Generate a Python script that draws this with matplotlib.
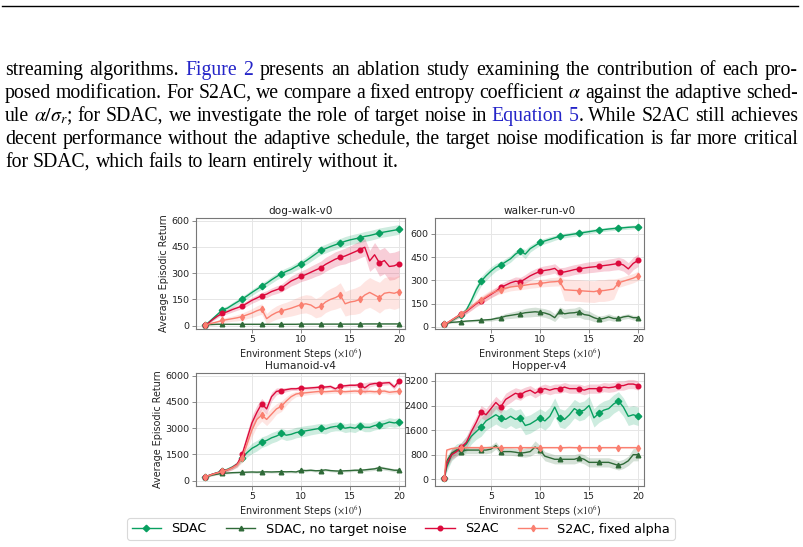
import numpy as np
import matplotlib
matplotlib.use('Agg')
import matplotlib.pyplot as plt
from matplotlib.lines import Line2D

plt.rcParams['mathtext.fontset'] = 'stix'

W, H = 804, 547

# x positions of the evaluation points (x 10^6 environment steps)
steps = [0.25] + [i / 2 for i in range(1, 41)]

titles = ['dog-walk-v0', 'walker-run-v0', 'Humanoid-v4', 'Hopper-v4']
labels = ['SDAC', 'SDAC, no target noise', 'S2AC', 'S2AC, fixed alpha']

# ---- dog-walk-v0 ----
dog_sdac = [5, 15, 40, 65, 90, 100, 118, 135, 152, 170, 190, 208, 226, 242, 262, 280, 297, 310, 322, 338,
            352, 370, 390, 410, 430, 440, 452, 462, 472, 482, 490, 496, 502, 510, 515, 522, 530, 535, 540, 545, 550]
dog_sdac_sd = [3, 6, 10, 12, 14, 14, 15, 15, 16, 16, 17, 17, 18, 18, 19, 19, 20, 20, 20, 21,
               22, 22, 23, 24, 25, 25, 25, 26, 26, 27, 27, 28, 28, 28, 28, 28, 28, 28, 28, 28, 28]
dog_nonoise = [5, 6, 7, 8, 8, 8, 8, 8, 8, 8, 8, 8, 8, 8, 8, 8, 8, 8, 8, 8,
               9, 9, 9, 9, 9, 9, 9, 9, 9, 9, 9, 9, 9, 10, 10, 10, 10, 10, 10, 10, 10]
dog_nonoise_sd = [2] * 41
dog_s2ac = [5, 12, 35, 55, 70, 80, 92, 102, 112, 128, 145, 158, 172, 180, 195, 205, 215, 235, 255, 268,
            282, 292, 305, 318, 330, 350, 365, 380, 390, 398, 410, 422, 435, 448, 370, 405, 358, 372, 338, 342, 355]
dog_s2ac_sd = [3, 5, 8, 10, 12, 12, 14, 14, 15, 16, 17, 18, 18, 20, 20, 22, 22, 25, 28, 30,
               30, 32, 35, 36, 38, 40, 40, 42, 42, 45, 45, 48, 48, 50, 60, 70, 75, 75, 78, 78, 75]
dog_fixed = [5, 8, 15, 22, 30, 35, 40, 45, 52, 62, 72, 85, 95, 40, 60, 75, 85, 92, 100, 110,
             120, 125, 118, 100, 110, 135, 150, 160, 175, 125, 135, 140, 150, 175, 190, 175, 160, 185, 190, 185, 195]
dog_fixed_sd = [3, 5, 8, 10, 12, 14, 15, 18, 20, 22, 25, 28, 30, 30, 35, 38, 40, 42, 45, 48,
                50, 52, 55, 55, 58, 60, 62, 65, 70, 70, 72, 75, 78, 80, 85, 85, 88, 90, 90, 92, 92]

# ---- walker-run-v0 ----
walker_sdac = [20, 25, 40, 60, 80, 110, 170, 240, 295, 330, 360, 385, 400, 420, 440, 470, 490, 470, 505, 525,
               545, 555, 565, 575, 585, 590, 595, 600, 605, 610, 615, 620, 625, 628, 632, 635, 638, 640, 643, 645, 645]
walker_sdac_sd = [3, 5, 8, 10, 15, 20, 25, 30, 30, 30, 28, 25, 22, 22, 22, 22, 22, 30, 22, 20,
                  20, 18, 18, 16, 16, 15, 15, 15, 14, 14, 13, 13, 13, 12, 12, 12, 12, 12, 12, 12, 12]
walker_nonoise = [22, 25, 30, 32, 35, 38, 40, 42, 44, 46, 48, 55, 60, 70, 75, 80, 85, 92, 95, 98,
                  95, 90, 80, 60, 100, 85, 90, 92, 98, 80, 75, 60, 50, 55, 65, 55, 55, 65, 70, 60, 60]
walker_nonoise_sd = [3, 4, 5, 6, 6, 6, 7, 7, 8, 8, 10, 12, 15, 18, 20, 22, 25, 28, 30, 30,
                     28, 28, 28, 25, 30, 30, 30, 30, 35, 30, 28, 25, 20, 20, 20, 18, 15, 15, 15, 15, 15]
walker_s2ac = [20, 25, 45, 65, 85, 100, 125, 150, 170, 190, 210, 230, 255, 270, 285, 295, 292, 310, 330, 345,
               358, 365, 370, 378, 352, 355, 362, 370, 375, 380, 385, 388, 392, 396, 400, 405, 410, 400, 375, 410, 430]
walker_s2ac_sd = [3, 5, 10, 12, 15, 15, 18, 20, 20, 22, 22, 25, 25, 25, 25, 28, 28, 28, 30, 30,
                  30, 30, 30, 30, 30, 30, 32, 32, 32, 35, 35, 35, 35, 35, 38, 38, 40, 40, 40, 40, 40]
walker_fixed = [20, 25, 45, 65, 85, 105, 130, 155, 175, 195, 215, 230, 240, 250, 258, 262, 265, 270, 275, 278,
                282, 285, 290, 292, 295, 240, 238, 236, 235, 232, 230, 228, 235, 235, 240, 245, 285, 295, 305, 315, 330]
walker_fixed_sd = [3, 5, 10, 12, 15, 18, 20, 22, 25, 25, 25, 25, 25, 25, 25, 25, 25, 25, 25, 25,
                   25, 25, 28, 28, 30, 70, 70, 70, 70, 70, 70, 70, 70, 70, 70, 65, 30, 30, 30, 30, 30]

# ---- Humanoid-v4 ----
hum_sdac = [200, 280, 380, 470, 560, 650, 780, 950, 1300, 1600, 1850, 2000, 2200, 2300, 2450, 2550, 2700, 2600, 2650, 2750,
            2800, 2850, 2900, 2950, 3000, 2950, 3050, 3100, 3100, 3000, 3050, 3000, 3150, 3050, 3050, 3150, 3200, 3250, 3350, 3300, 3350]
hum_sdac_sd = [30, 50, 60, 70, 80, 100, 120, 150, 200, 250, 300, 300, 300, 300, 300, 300, 300, 300, 300, 300,
               300, 300, 280, 280, 280, 280, 250, 250, 250, 250, 250, 250, 250, 250, 250, 250, 250, 250, 250, 250, 250]
hum_nonoise = [200, 260, 330, 380, 420, 440, 460, 470, 480, 490, 500, 490, 500, 510, 500, 510, 520, 510, 520, 500,
               600, 580, 600, 570, 580, 620, 580, 560, 550, 570, 580, 600, 600, 620, 650, 680, 750, 700, 650, 600, 600]
hum_nonoise_sd = [30, 40, 50, 50, 50, 50, 50, 50, 50, 50, 60, 60, 60, 60, 60, 60, 60, 60, 70, 70,
                  70, 70, 70, 70, 70, 70, 70, 70, 70, 70, 70, 70, 70, 80, 90, 90, 100, 100, 90, 90, 90]
hum_s2ac = [200, 280, 380, 460, 540, 620, 750, 950, 1500, 2400, 3300, 3900, 4400, 4100, 4800, 5100, 5150, 5200, 5250, 5250,
            5300, 5280, 5300, 5320, 5350, 5350, 5380, 5250, 5400, 5420, 5450, 5450, 5480, 5300, 5500, 5550, 5550, 5580, 5600, 5350, 5700]
hum_s2ac_sd = [30, 50, 60, 70, 80, 100, 120, 150, 250, 350, 400, 400, 300, 300, 250, 200, 150, 120, 100, 100,
               100, 100, 100, 100, 100, 100, 100, 100, 100, 100, 100, 100, 120, 300, 150, 120, 120, 120, 120, 150, 150]
hum_fixed = [200, 270, 370, 450, 530, 620, 740, 900, 1300, 2100, 2900, 3500, 3750, 3500, 3800, 4100, 4250, 4550, 4800, 4950,
             5000, 5020, 5050, 5080, 5100, 5080, 5100, 5120, 5100, 5080, 5100, 5120, 5100, 5080, 5100, 5080, 5100, 5120, 5050, 5080, 5100]
hum_fixed_sd = [30, 50, 60, 70, 80, 100, 120, 150, 250, 350, 400, 400, 350, 350, 350, 300, 300, 250, 200, 150,
                150, 130, 120, 120, 120, 120, 120, 120, 120, 120, 120, 120, 120, 120, 120, 120, 120, 120, 120, 120, 120]

# ---- Hopper-v4 ----
hop_sdac = [50, 400, 800, 950, 1000, 1150, 1400, 1550, 1700, 1900, 2000, 2100, 2000, 1950, 2050, 1950, 2000, 1750, 1800, 1900,
            2000, 1900, 2050, 2350, 2000, 1950, 2100, 2300, 2200, 2250, 2400, 2000, 2150, 2250, 2300, 2450, 2550, 2350, 2050, 2100, 2050]
hop_sdac_sd = [30, 150, 200, 200, 200, 250, 250, 250, 300, 300, 300, 300, 300, 300, 300, 300, 300, 300, 300, 300,
               300, 300, 300, 300, 300, 300, 300, 300, 300, 300, 300, 300, 300, 300, 300, 300, 300, 300, 300, 300, 300]
hop_nonoise = [50, 600, 850, 950, 900, 950, 950, 950, 950, 950, 980, 1100, 900, 900, 900, 880, 850, 870, 900, 1050,
               950, 750, 700, 650, 650, 650, 650, 650, 700, 650, 550, 550, 550, 550, 550, 500, 450, 500, 600, 800, 800]
hop_nonoise_sd = [30, 150, 150, 120, 120, 120, 120, 120, 120, 120, 120, 120, 120, 120, 120, 120, 120, 150, 150, 200,
                  150, 150, 150, 150, 150, 150, 150, 150, 150, 150, 150, 150, 150, 150, 150, 150, 150, 150, 150, 200, 200]
hop_s2ac = [50, 500, 800, 900, 1050, 1200, 1550, 1850, 2200, 2100, 2300, 2500, 2350, 2600, 2700, 2800, 2750, 2850, 2900, 2800,
            2900, 2950, 2900, 2950, 2950, 3000, 2950, 2950, 2950, 2900, 2950, 2950, 2950, 3000, 2980, 3000, 3050, 3050, 3100, 3100, 3050]
hop_s2ac_sd = [30, 150, 150, 150, 150, 200, 200, 200, 200, 200, 200, 200, 200, 200, 200, 180, 180, 150, 150, 150,
               150, 150, 150, 150, 150, 150, 150, 150, 150, 150, 150, 150, 150, 150, 150, 150, 150, 150, 150, 150, 150]
hop_fixed = [50, 950, 1000, 1020, 1030, 1030, 1030, 1030, 1030, 1030, 1030, 1035, 1030, 1030, 1030, 1030, 1030, 1030, 1030, 1030,
             1030, 1030, 1030, 1030, 1030, 1030, 1035, 1030, 1030, 1030, 1030, 1030, 1030, 1030, 1030, 1030, 1030, 1030, 1030, 1030, 1030]
hop_fixed_sd = [20, 40, 30, 30, 30, 30, 30, 30, 30, 30, 30, 30, 30, 30, 30, 30, 30, 30, 30, 30,
                30, 30, 30, 30, 30, 30, 30, 30, 30, 30, 30, 30, 30, 30, 30, 30, 30, 30, 30, 30, 30]

panels = [
    [(dog_sdac, dog_sdac_sd), (dog_nonoise, dog_nonoise_sd), (dog_s2ac, dog_s2ac_sd), (dog_fixed, dog_fixed_sd)],
    [(walker_sdac, walker_sdac_sd), (walker_nonoise, walker_nonoise_sd), (walker_s2ac, walker_s2ac_sd), (walker_fixed, walker_fixed_sd)],
    [(hum_sdac, hum_sdac_sd), (hum_nonoise, hum_nonoise_sd), (hum_s2ac, hum_s2ac_sd), (hum_fixed, hum_fixed_sd)],
    [(hop_sdac, hop_sdac_sd), (hop_nonoise, hop_nonoise_sd), (hop_s2ac, hop_s2ac_sd), (hop_fixed, hop_fixed_sd)],
]
yticks = [[0, 150, 300, 450, 600], [0, 150, 300, 450, 600],
          [0, 1500, 3000, 4500, 6000], [0, 800, 1600, 2400, 3200]]
ylims = [(-19, 615), (-13, 703), (-300, 6150), (-220, 3460)]

colors = ['#08a060', '#2f6a38', '#dc0a3c', '#fa7f70']
markers = ['D', '^', 'o', 'd']

# axes boxes in pixels: left, top, right, bottom
boxes = [(196, 218, 405, 329), (435, 218, 644, 329),
         (196, 373, 405, 486), (435, 373, 644, 486)]

fig = plt.figure(figsize=(W / 100, H / 100), dpi=100)

x = np.array(steps)
mark_idx = [i for i, v in enumerate(steps) if v == 0.25 or (v % 2 == 0)]

for k, (l, t, r, b) in enumerate(boxes):
    ax = fig.add_axes([l / W, 1 - b / H, (r - l) / W, (b - t) / H])
    for j, (mean, sd) in enumerate(panels[k]):
        m = np.array(mean, dtype=float)
        s = np.array(sd, dtype=float)
        ax.fill_between(x, m - s, m + s, color=colors[j], alpha=0.2, lw=0)
        ax.plot(x, m, color=colors[j], lw=1.0, marker=markers[j], markersize=3.3,
                markevery=mark_idx, label=labels[j])
    ax.set_xlim(-0.7, 20.6)
    ax.set_ylim(*ylims[k])
    ax.set_xticks([5, 10, 15, 20])
    ax.set_yticks(yticks[k])
    ax.grid(True, color='#e6e6e6', lw=0.7)
    ax.set_axisbelow(True)
    for sp in ax.spines.values():
        sp.set_color('#777777')
        sp.set_linewidth(0.8)
    ax.tick_params(labelsize=6.8, length=3, width=0.6, color='#777777', pad=1.5, labelcolor='#222222')
    ax.set_title(titles[k], fontsize=7.6, pad=3, color='#222222')
    ax.set_xlabel(r'Environment Steps ($\times 10^6$)', fontsize=6.9, labelpad=1.5, color='#222222')
    if k % 2 == 0:
        ax.set_ylabel('Average Episodic Return', fontsize=6.9, labelpad=2, color='#222222')
    if k == 0:
        handles, _ = ax.get_legend_handles_labels()

leg = fig.legend(handles, labels, ncol=4, loc='center',
                 bbox_to_anchor=(401 / W, 1 - 529 / H), fontsize=9.2, frameon=True,
                 handlelength=2.3, columnspacing=1.5, handletextpad=0.8,
                 borderpad=0.35, fancybox=True)
leg.get_frame().set_edgecolor('#d0d0d0')
leg.get_frame().set_linewidth(0.8)

# ---- page text above the figure ----
fig.add_artist(Line2D([2 / W, 798 / W], [1 - 6 / H] * 2, color='black', lw=1.0))

blue = '#2424c8'
K = 'black'
text_lines = [
    [[('streaming', K)], [('algorithms.', K)], [('Figure', blue)], [('2', blue)], [('presents', K)], [('an', K)],
     [('ablation', K)], [('study', K)], [('examining', K)], [('the', K)], [('contribution', K)], [('of', K)],
     [('each', K)], [('pro-', K)]],
    [[(w, K)] for w in 'posed modification. For S2AC, we compare a fixed entropy coefficient'.split()]
    + [[(r'$\alpha$', K)]]
    + [[(w, K)] for w in 'against the adaptive sched-'.split()],
    [[('ule', K)], [(r'$\alpha/\sigma_r$;', K)]]
    + [[(w, K)] for w in 'for SDAC, we investigate the role of target noise in'.split()]
    + [[('Equation', blue)], [('5', blue), ('.', K)]]
    + [[(w, K)] for w in 'While S2AC still achieves'.split()],
    [[(w, K)] for w in 'decent performance without the adaptive schedule, the target noise modification is far more critical'.split()],
    [[(w, K)] for w in 'for SDAC, which fails to learn entirely without it.'.split()],
]
baselines = [75, 98, 121, 144, 167]
left_px, right_px = 5, 798
fs = 14.2

renderer = fig.canvas.get_renderer()
for li, (words, yb) in enumerate(zip(text_lines, baselines)):
    objs = []
    widths = []
    for word in words:
        pieces = []
        wsum = 0
        for txt, col in word:
            t = fig.text(0, 1 - yb / H, txt, color=col, fontsize=fs, family='Liberation Serif', va='baseline')
            pw = t.get_window_extent(renderer).width
            pieces.append((t, pw))
            wsum += pw
        objs.append(pieces)
        widths.append(wsum)
    if li < len(text_lines) - 1:
        gap = (right_px - left_px - sum(widths)) / (len(words) - 1)
    else:
        gap = fs * 0.25 * 100 / 72
    xpos = left_px
    for pieces, wsum in zip(objs, widths):
        xx = xpos
        for t, pw in pieces:
            t.set_x(xx / W)
            xx += pw
        xpos += wsum + gap

fig.savefig('out.png', dpi=100)
